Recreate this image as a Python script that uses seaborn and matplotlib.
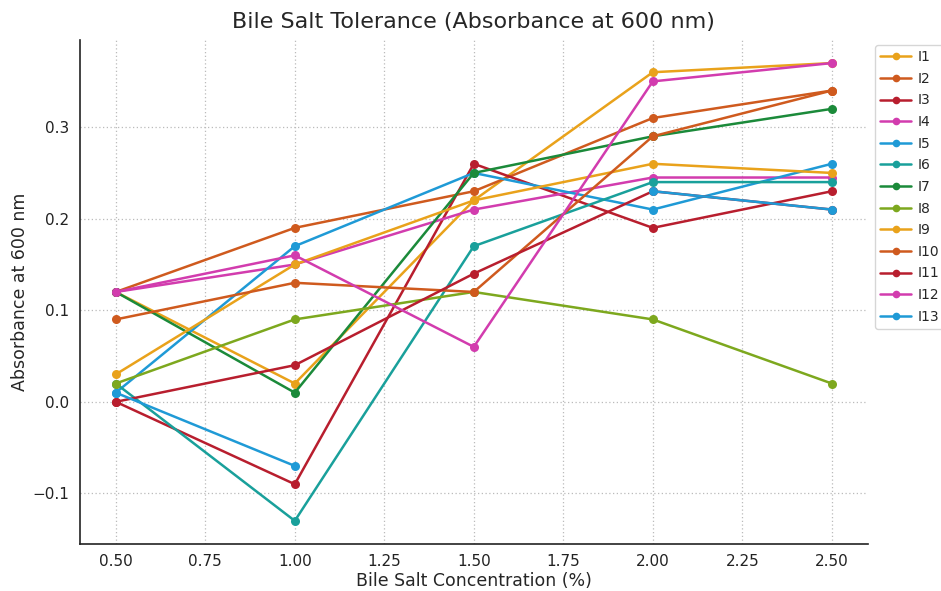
import numpy as np
import pandas as pd
import matplotlib
matplotlib.use("Agg")
import matplotlib.pyplot as plt
from matplotlib.lines import Line2D
import seaborn as sns

# ---- data ----
concentrations = [0.5, 1.0, 1.5, 2.0, 2.5]
isolates = ["I1", "I2", "I3", "I4", "I5", "I6", "I7", "I8", "I9", "I10", "I11", "I12", "I13"]
I1 = [0.12, 0.02, 0.22, 0.36, 0.37]
I2 = [0.12, 0.19, 0.23, 0.31, 0.34]
I3 = [0.00, -0.09, 0.26, 0.19, 0.23]
I4 = [0.12, 0.15, 0.21, 0.245, 0.245]
I5 = [0.01, 0.17, 0.25, 0.21, 0.26]
I6 = [0.02, -0.13, 0.17, 0.24, 0.24]
I7 = [0.12, 0.01, 0.25, 0.29, 0.32]
I8 = [0.02, 0.09, 0.12, 0.09, 0.02]
I9 = [0.03, 0.15, 0.22, 0.26, 0.25]
I10 = [0.09, 0.13, 0.12, 0.29, 0.34]
I11 = [0.00, 0.04, 0.14, 0.23, 0.21]
I12 = [0.12, 0.16, 0.06, 0.35, 0.37]
I13 = [0.01, -0.07, np.nan, 0.23, 0.21]
series = [I1, I2, I3, I4, I5, I6, I7, I8, I9, I10, I11, I12, I13]

x_ticks = [0.5, 0.75, 1.0, 1.25, 1.5, 1.75, 2.0, 2.25, 2.5]
y_ticks = [-0.1, 0.0, 0.1, 0.2, 0.3]

base_colors = ["#E9A21B", "#CF5A1E", "#B81E2E", "#D23CAE",
               "#1F9AD6", "#19A09B", "#1B8A3A", "#7DA81E"]
palette = [base_colors[i % len(base_colors)] for i in range(len(isolates))]

# long-format table; a new segment starts after a missing value
rows = []
for name, vals in zip(isolates, series):
    seg = 0
    for xv, yv in zip(concentrations, vals):
        if np.isnan(yv):
            seg += 1
            continue
        rows.append({"conc": xv, "absorb": yv, "isolate": name, "seg": f"{name}_{seg}"})
df = pd.DataFrame(rows)

# ---- figure ----
sns.set_style("white")
plt.rcParams["font.family"] = ["DejaVu Sans"]

fig = plt.figure(figsize=(9.41, 5.91), dpi=100)
ax = fig.add_axes([0.085, 0.080, 0.837, 0.852])

sns.lineplot(data=df, x="conc", y="absorb", hue="isolate", units="seg",
             estimator=None, hue_order=isolates, palette=palette,
             marker="o", markersize=6.5, markeredgewidth=0, linewidth=1.8,
             sort=False, legend=False, ax=ax)

ax.set_title("Bile Salt Tolerance (Absorbance at 600 nm)", fontsize=16, pad=9)
ax.set_xlabel("Bile Salt Concentration (%)", fontsize=12.5, labelpad=2)
ax.set_ylabel("Absorbance at 600 nm", fontsize=12.5, labelpad=3)

ax.set_xticks(x_ticks)
ax.set_xticklabels([f"{v:.2f}" for v in x_ticks])
ax.set_yticks(y_ticks)
ax.set_yticklabels([f"{v:.1f}".replace("-", "\u2212") for v in y_ticks])
ax.tick_params(axis="both", labelsize=11, direction="out", length=4, width=1, colors="#222222")

ax.grid(True, linestyle=(0, (1, 2)), color="#bbbbbb", linewidth=0.9)
for s in ["top", "right"]:
    ax.spines[s].set_visible(False)
for s in ["left", "bottom"]:
    ax.spines[s].set_color("#222222")
    ax.spines[s].set_linewidth(1.2)

handles = [Line2D([], [], color=c, marker="o", markersize=5.5, markeredgewidth=0, linewidth=1.8)
           for c in palette]
leg = ax.legend(handles, isolates, loc="upper left", bbox_to_anchor=(1.01, 0.99),
                borderaxespad=0, fontsize=10, frameon=True, handlelength=2.2,
                handletextpad=0.5, labelspacing=0.55, borderpad=0.35)
leg.get_frame().set_edgecolor("#cccccc")

fig.savefig("out.png", dpi=100)
